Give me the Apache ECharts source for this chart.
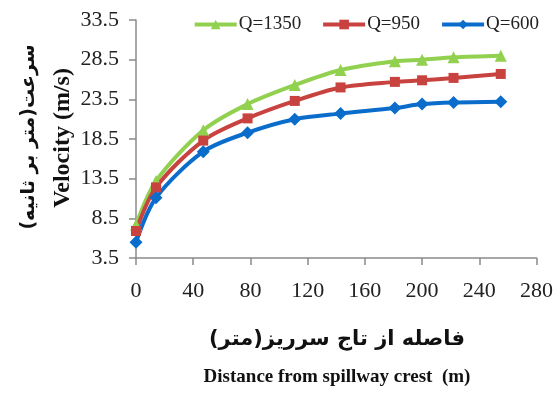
<!DOCTYPE html>
<html>
<head>
<meta charset="utf-8">
<script src="https://cdn.jsdelivr.net/npm/echarts@6/dist/echarts.min.js"></script>
<style>
  html,body{margin:0;padding:0;background:#fff;}
  #chart{width:556px;height:394px;}
</style>
</head>
<body>
<div id="chart"></div>
<script>
// 距离 (m)
var distance = [0, 14, 47, 78, 111, 143, 181, 200, 222, 255];
// 三个流量下的流速
var q1350 = [7.7, 13.2, 19.6, 22.9, 25.3, 27.2, 28.3, 28.5, 28.8, 29.0];
var q950 = [6.9, 12.4, 18.3, 21.1, 23.3, 25.0, 25.7, 25.9, 26.2, 26.7];
var q600 = [5.5, 11.1, 16.9, 19.3, 21.0, 21.7, 22.4, 22.9, 23.1, 23.2];
var seriesNames = ['Q=1350', 'Q=950', 'Q=600'];

function pairs(ys){
  return distance.map(function(x, i){ return [x, ys[i]]; });
}

var myChart = echarts.init(document.getElementById('chart'));
var serif = '"Liberation Serif", "Times New Roman", serif';
var axisColor = '#8a8a8a';

var option = {
  animation: false,
  grid: { left: 136, right: 17, top: 20, bottom: 136 },
  legend: {
    top: 10,
    right: 12,
    itemWidth: 42,
    itemHeight: 12,
    itemGap: 20,
    lineStyle: { width: 4 },
    textStyle: { fontFamily: serif, fontSize: 19, color: '#222', padding: [0, 0, 0, -3] },
    data: seriesNames
  },
  xAxis: {
    type: 'value',
    min: 0, max: 280, interval: 40,
    axisLine: { lineStyle: { color: axisColor, width: 1.5 } },
    axisTick: { length: 7, lineStyle: { color: axisColor, width: 1.5 } },
    axisLabel: { fontFamily: serif, fontSize: 22, color: '#222', margin: 22 },
    splitLine: { show: false }
  },
  yAxis: {
    type: 'value',
    min: 3.5, max: 33.5, interval: 5,
    axisLine: { show: true, lineStyle: { color: axisColor, width: 1.5 } },
    axisTick: { show: true, length: 7, lineStyle: { color: axisColor, width: 1.5 } },
    axisLabel: {
      fontFamily: serif, fontSize: 22, color: '#222', margin: 17,
      formatter: function(v){ return v.toFixed(1); }
    },
    splitLine: { show: false }
  },
  graphic: [
    {
      type: 'text', x: 29, y: 137, rotation: Math.PI / 2,
      style: {
        text: 'سرعت(متر بر ثانیه)',
        font: 'bold 19px "DejaVu Sans"',
        fill: '#111', align: 'center', verticalAlign: 'middle'
      }
    },
    {
      type: 'text', x: 63, y: 138, rotation: Math.PI / 2,
      style: {
        text: 'Velocity (m/s)',
        font: 'bold 24px ' + serif,
        fill: '#111', align: 'center', verticalAlign: 'middle'
      }
    },
    {
      type: 'text', x: 337, y: 340,
      style: {
        text: 'فاصله از تاج سرریز(متر)',
        font: 'bold 21px "DejaVu Sans"',
        fill: '#111', align: 'center', verticalAlign: 'middle'
      }
    },
    {
      type: 'text', x: 337, y: 377,
      style: {
        text: 'Distance from spillway crest  (m)',
        font: 'bold 19px ' + serif,
        fill: '#111', align: 'center', verticalAlign: 'middle'
      }
    }
  ],
  series: [
    {
      name: seriesNames[0], type: 'line', smooth: 0.3,
      data: pairs(q1350),
      symbol: 'triangle', symbolSize: 12,
      lineStyle: { width: 4, color: '#92D050' },
      itemStyle: { color: '#92D050' }
    },
    {
      name: seriesNames[1], type: 'line', smooth: 0.3,
      data: pairs(q950),
      symbol: 'rect', symbolSize: 10,
      lineStyle: { width: 4, color: '#C8423F' },
      itemStyle: { color: '#C8423F' }
    },
    {
      name: seriesNames[2], type: 'line', smooth: 0.3,
      data: pairs(q600),
      symbol: 'diamond', symbolSize: 13,
      lineStyle: { width: 4, color: '#0A6CCB' },
      itemStyle: { color: '#0A6CCB' }
    }
  ]
};

myChart.setOption(option);
</script>
</body>
</html>
